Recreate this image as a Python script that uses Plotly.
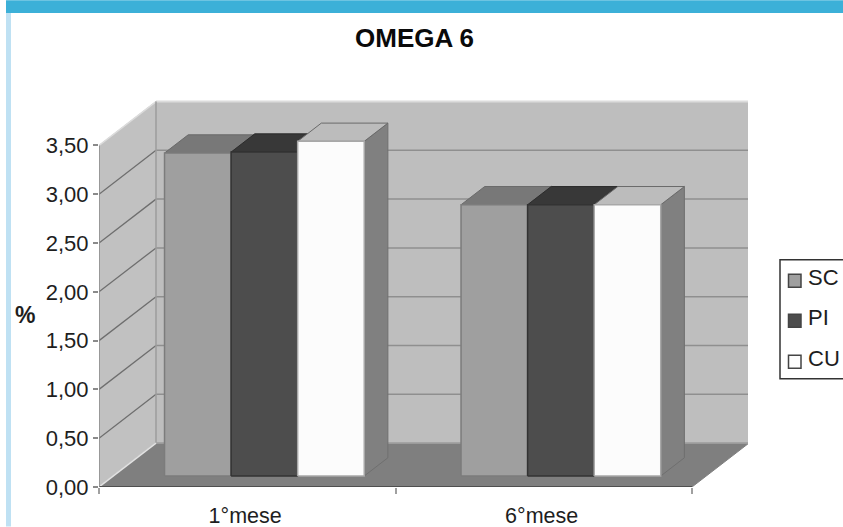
import plotly.graph_objects as go

# ---- data ----
categories = ["1°mese", "6°mese"]
series_names = ["SC", "PI", "CU"]
sc_values = [3.31, 2.78]
pi_values = [3.32, 2.78]
cu_values = [3.43, 2.78]
value_ticks = [0, 0.5, 1, 1.5, 2, 2.5, 3, 3.5]

# ---- styling per series: front, top, side, outline ----
series_style = {
    "SC": ("#9f9f9f", "#787878", "#808080", "#7c7c7c"),
    "PI": ("#4d4d4d", "#383838", "#383838", "#333333"),
    "CU": ("#fcfcfc", "#bcbcbc", "#808080", "#a8a8a8"),
}

# ---- oblique projection: depth 0 is the front of the floor, depth 1 the back wall ----
W, H = 843, 527
PLOT_L, PLOT_R, PLOT_T, PLOT_B = 99, 748, 100, 487.5
PX_PER_CAT = 296.5
PX_PER_VAL = 97.7
DX = 57 / PX_PER_CAT
DY = 44 / PX_PER_VAL
BAR_D0, BAR_D1 = 0.25, 0.665
GROUP_GAP = 0.173
BAR_W = 0.2245
VMAX = 3.5
NCAT = len(categories)


def proj(cat, val, depth):
    return cat + depth * DX, val + depth * DY


def px(x):
    return (x - PLOT_L) / (PLOT_R - PLOT_L)


def py(y):
    return (PLOT_B - y) / (PLOT_B - PLOT_T)


def poly(points, fill, line=None, width=1):
    xs, ys = zip(*[proj(*p) for p in points + points[:1]])
    return go.Scatter(
        x=xs, y=ys, mode="lines", fill="toself", fillcolor=fill,
        line=dict(color=line or fill, width=width),
        hoverinfo="skip", showlegend=False,
    )


def seg(a, b, color, width=1):
    xs, ys = zip(proj(*a), proj(*b))
    return go.Scatter(
        x=xs, y=ys, mode="lines", line=dict(color=color, width=width),
        hoverinfo="skip", showlegend=False,
    )


traces = []

# walls and floor
traces.append(poly([(0, 0, 0), (0, VMAX, 0), (0, VMAX, 1), (0, 0, 1)], "#c1c1c1", "#c1c1c1"))
traces.append(poly([(0, 0, 1), (NCAT, 0, 1), (NCAT, VMAX, 1), (0, VMAX, 1)], "#bebebe", "#bebebe"))
traces.append(poly([(0, 0, 0), (NCAT, 0, 0), (NCAT, 0, 1), (0, 0, 1)], "#7f7f7f", "#7f7f7f"))

# grid lines across side wall and back wall
for v in value_ticks[1:-1]:
    traces.append(seg((0, v, 0), (0, v, 1), "#6e6e6e", 1.3))
    traces.append(seg((0, v, 1), (NCAT, v, 1), "#8f8f8f", 1.5))

# wall edges
traces.append(seg((0, VMAX, 0), (0, VMAX, 1), "#dcdcdc", 1.5))
traces.append(seg((0, VMAX, 1), (NCAT, VMAX, 1), "#dcdcdc", 2))
traces.append(seg((0, 0, 1), (0, VMAX, 1), "#9c9c9c", 1.5))
traces.append(seg((NCAT, 0, 1), (NCAT, VMAX, 1), "#cfcfcf", 1.5))
traces.append(seg((0, 0, 1), (NCAT, 0, 1), "#a6a6a6", 1.5))
traces.append(seg((0, 0, 0), (0, 0, 1), "#e2e2e2", 1.5))

# bars, drawn left to right so that nearer faces overlap
for c in range(NCAT):
    for s, (name, vals) in enumerate(zip(series_names, (sc_values, pi_values, cu_values))):
        v = vals[c]
        x0 = c + GROUP_GAP + s * BAR_W
        x1 = x0 + BAR_W
        front, top, side, edge = series_style[name]
        traces.append(poly([(x1, 0, BAR_D0), (x1, 0, BAR_D1), (x1, v, BAR_D1), (x1, v, BAR_D0)], side, "#6f6f6f"))
        traces.append(poly([(x0, v, BAR_D0), (x1, v, BAR_D0), (x1, v, BAR_D1), (x0, v, BAR_D1)], top, "#6a6a6a" if name != "PI" else "#2c2c2c"))
        traces.append(poly([(x0, 0, BAR_D0), (x1, 0, BAR_D0), (x1, v, BAR_D0), (x0, v, BAR_D0)], front, edge, 1.5))

# axis lines
traces.append(seg((0, 0, 0), (NCAT, 0, 0), "#4f4f4f", 2))
traces.append(seg((0, 0, 0), (0, VMAX, 0), "#8a8a8a", 1.5))

fig = go.Figure(traces)

TEXT = "#1e1e1e"
FONT = "Liberation Sans, Arial, sans-serif"

fig.update_layout(
    width=W, height=H,
    margin=dict(l=PLOT_L, r=W - PLOT_R, t=PLOT_T, b=H - PLOT_B, pad=0, autoexpand=False),
    paper_bgcolor="white", plot_bgcolor="white",
    separators=",.",
    showlegend=False,
    font=dict(family=FONT, color=TEXT, size=21),
    title=dict(
        text="<b>OMEGA 6</b>", x=414.5 / W, xanchor="center",
        y=1 - 38 / H, yanchor="middle",
        font=dict(family=FONT, size=26, color="#0a0a0a"),
    ),
    xaxis=dict(
        range=[0, (PLOT_R - PLOT_L) / PX_PER_CAT],
        tickvals=[c + 0.493 for c in range(NCAT)], ticktext=categories,
        ticks="outside", ticklen=9, tickcolor="rgba(0,0,0,0)",
        minor=dict(tickvals=list(range(NCAT + 1)), ticks="outside", ticklen=6, tickcolor="#a0a0a0", tickwidth=1.5),
        showgrid=False, zeroline=False, showline=False,
        tickfont=dict(size=21.5, color=TEXT), fixedrange=True,
    ),
    yaxis=dict(
        range=[0, (PLOT_B - PLOT_T) / PX_PER_VAL],
        tickvals=value_ticks, tickformat=".2f",
        ticks="outside", ticklen=5, tickcolor="#8a8a8a", tickwidth=1.5,
        showgrid=False, zeroline=False, showline=False,
        tickfont=dict(size=22, color=TEXT), fixedrange=True,
    ),
)

# page banner and side strip
shapes = [
    dict(type="rect", xref="paper", yref="paper", layer="below",
         x0=px(6), x1=px(W), y0=py(13), y1=py(0), fillcolor="#3cb0d8", line_width=0),
    dict(type="rect", xref="paper", yref="paper", layer="below",
         x0=px(6), x1=px(11), y0=py(H), y1=py(13), fillcolor="#bfe1f3", line_width=0),
    # key frame
    dict(type="rect", xref="paper", yref="paper",
         x0=px(780), x1=px(846), y0=py(379), y1=py(260), fillcolor="white",
         line=dict(color="#333333", width=1.5)),
]

annotations = [
    dict(text="<b>%</b>", xref="paper", yref="paper", x=px(25), y=py(315),
         xanchor="center", yanchor="middle", showarrow=False,
         font=dict(size=23, color=TEXT)),
]

# key entries
key_rows = [281, 321, 362]
for name, row in zip(series_names, key_rows):
    shapes.append(dict(type="rect", xref="paper", yref="paper",
                       x0=px(788.5), x1=px(801), y0=py(row + 6.5), y1=py(row - 6.5),
                       fillcolor=series_style[name][0], line=dict(color="#444444", width=1.5)))
    annotations.append(dict(text=name, xref="paper", yref="paper", x=px(805.5), y=py(row - 3),
                            xanchor="left", yanchor="middle", showarrow=False,
                            font=dict(size=22, color=TEXT)))

fig.update_layout(shapes=shapes, annotations=annotations)

fig.write_html("out.html", config={"displayModeBar": False})
